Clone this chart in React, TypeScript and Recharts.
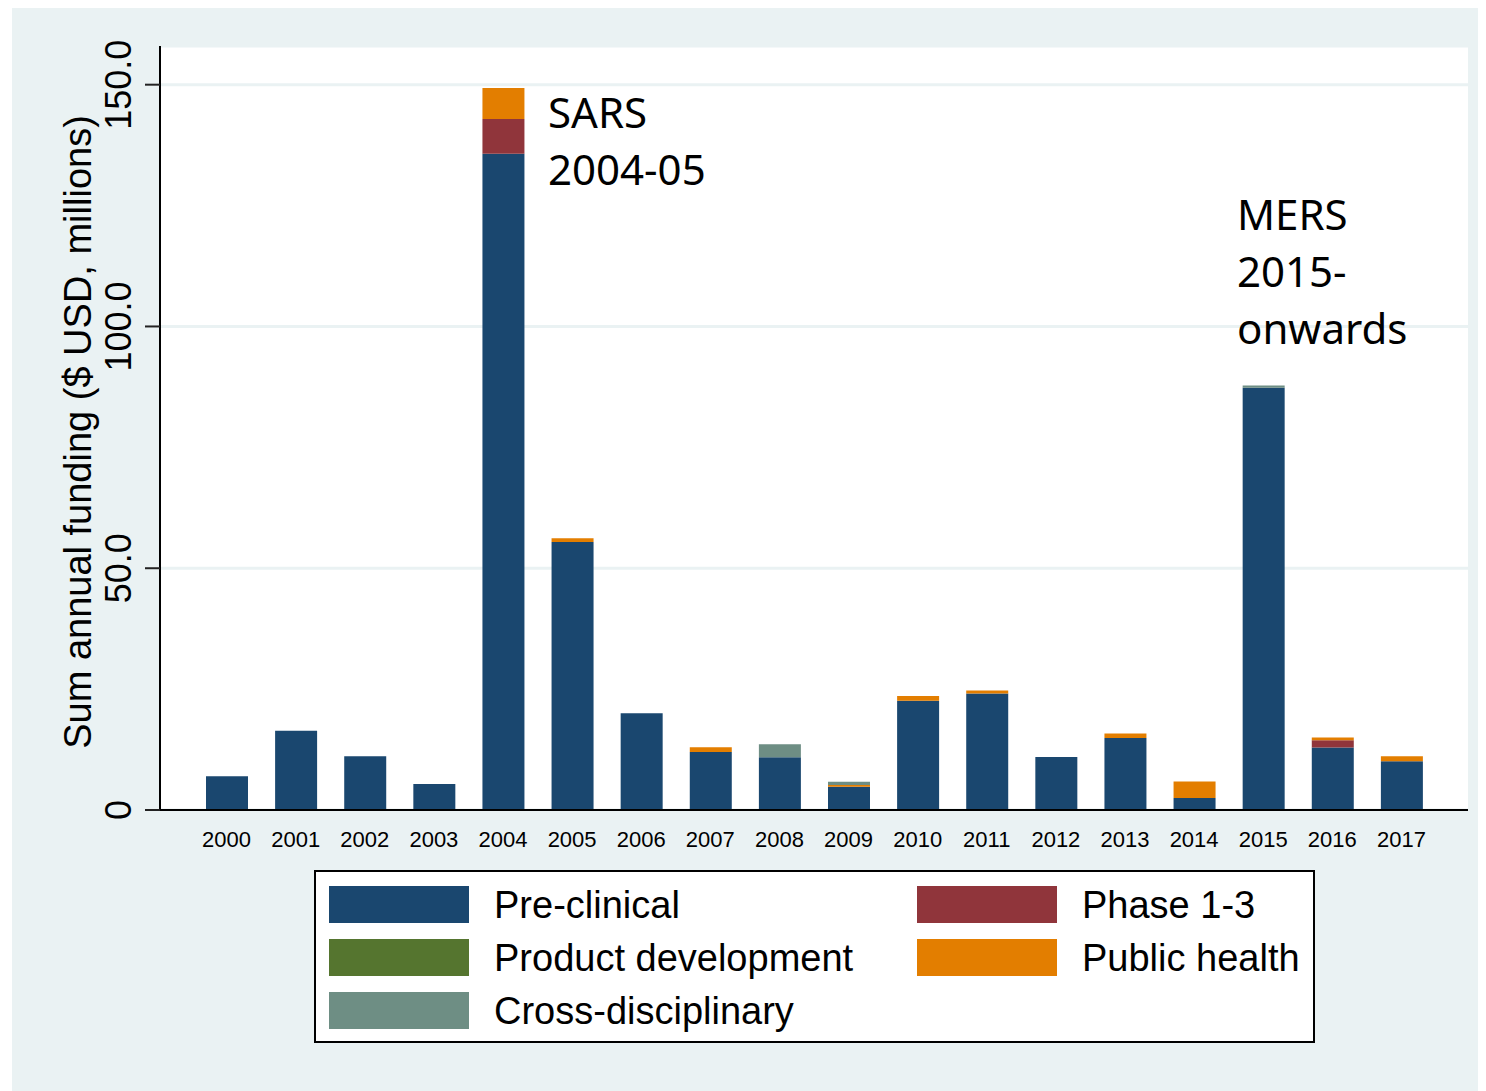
import React from 'react';
import { BarChart, Bar, XAxis, YAxis, CartesianGrid, Legend, Customized } from 'recharts';

const years = ['2000', '2001', '2002', '2003', '2004', '2005', '2006', '2007', '2008', '2009', '2010', '2011', '2012', '2013', '2014', '2015', '2016', '2017'];
const preClinical = [7.0, 16.4, 11.1, 5.4, 135.7, 55.4, 20.0, 12.0, 10.9, 4.8, 22.6, 24.1, 10.95, 14.9, 2.5, 87.3, 12.9, 10.1];
const phase13 = [0, 0, 0, 0, 7.2, 0, 0, 0, 0, 0, 0, 0, 0, 0, 0, 0, 1.5, 0];
const productDev = [0, 0, 0, 0, 0, 0, 0, 0, 0, 0, 0, 0, 0, 0, 0, 0, 0, 0];
const publicHealth = [0, 0, 0, 0, 6.4, 0.8, 0, 1.0, 0, 0.35, 1.0, 0.6, 0, 0.9, 3.4, 0, 0.6, 1.0];
const crossDisc = [0, 0, 0, 0, 0, 0, 0, 0, 2.7, 0.7, 0, 0, 0, 0, 0, 0.5, 0, 0];
const yTicks = [0, 50, 100, 150];

const seriesNames = ['Pre-clinical', 'Phase 1-3', 'Product development', 'Public health', 'Cross-disciplinary'];
const seriesKeys = ['pre', 'ph', 'pd', 'pub', 'cross'];
const seriesColors = ['#1a476f', '#90353b', '#55752f', '#e37e00', '#6e8e84'];

const data = years.map((y, i) => ({
  year: y,
  pre: preClinical[i],
  ph: phase13[i],
  pd: productDev[i],
  pub: publicHealth[i],
  cross: crossDisc[i],
}));

const SANS = '"Liberation Sans", Arial, sans-serif';
const ANNO = '"Noto Sans", "Open Sans", sans-serif';
const BG = '#eaf2f3';

const YTick = (props: any) => {
  const { y, payload } = props;
  const v = payload.value;
  const label = v === 0 ? '0' : v.toFixed(1);
  return (
    <text x={119} y={y} transform={`rotate(-90, 119, ${y})`} textAnchor="middle" fontSize={36} fontFamily={SANS} fill="#000">
      {label}
    </text>
  );
};

const XTick = (props: any) => {
  const { x, y, payload } = props;
  return (
    <text x={x} y={y + 29} textAnchor="middle" fontSize={22} fontFamily={SANS} fill="#000">
      {payload.value}
    </text>
  );
};

const LegendBox = () => {
  const cols = [15, 603];
  const rows = [16, 69, 122];
  return (
    <div style={{ position: 'relative', width: 1001, height: 173, background: '#fff', border: '2px solid #000', boxSizing: 'border-box' }}>
      {seriesNames.map((n, i) => {
        const c = cols[i % 2];
        const r = rows[Math.floor(i / 2)];
        return (
          <div key={n}>
            <div style={{ position: 'absolute', left: c - 2, top: r - 2, width: 140, height: 37, background: seriesColors[i] }} />
            <div style={{ position: 'absolute', left: c + 163, top: r - 1, height: 37, lineHeight: '37px', fontSize: 38, fontFamily: SANS, color: '#000', whiteSpace: 'nowrap' }}>{n}</div>
          </div>
        );
      })}
    </div>
  );
};

const Annotations = () => (
  <g fontFamily={ANNO} fontSize={42} fill="#000">
    <text x={536} y={120}>SARS</text>
    <text x={536} y={177}>2004-05</text>
    <text x={1225} y={222}>MERS</text>
    <text x={1225} y={279}>2015-</text>
    <text x={1225} y={336}>onwards</text>
  </g>
);

export default function App() {
  return (
    <div style={{ marginLeft: 4, width: 1474, height: 1083, background: BG, position: 'relative' }}>
      <BarChart width={1472} height={1083} data={data} margin={{ top: 38, right: 16, left: 0, bottom: 241 }}>
        <CartesianGrid vertical={false} stroke={BG} strokeWidth={3} fill="#fff" />
        <XAxis
          dataKey="year"
          padding={{ left: 32, right: 32 }}
          height={40}
          tickLine={false}
          axisLine={{ stroke: '#000', strokeWidth: 2 }}
          tick={<XTick />}
          interval={0}
        />
        <YAxis
          width={148}
          domain={[0, 158]}
          ticks={yTicks}
          tickSize={15}
          tickLine={{ stroke: '#222', strokeWidth: 2 }}
          axisLine={{ stroke: '#000', strokeWidth: 2 }}
          tick={<YTick />}
          interval={0}
          allowDataOverflow
        />
        {seriesKeys.map((k, i) => (
          <Bar key={k} dataKey={k} name={seriesNames[i]} stackId="a" fill={seriesColors[i]} barSize={42} isAnimationActive={false} />
        ))}
        <Legend
          layout="horizontal"
          verticalAlign="middle"
          align="center"
          wrapperStyle={{ position: 'absolute', left: 302, top: 862, width: 1001, height: 173 }}
          content={<LegendBox />}
        />
        <Customized component={Annotations} />
        <text x={79} y={424} transform="rotate(-90, 79, 424)" textAnchor="middle" fontSize={38} fontFamily={SANS} fill="#000">
          Sum annual funding ($ USD, millions)
        </text>
      </BarChart>
    </div>
  );
}
